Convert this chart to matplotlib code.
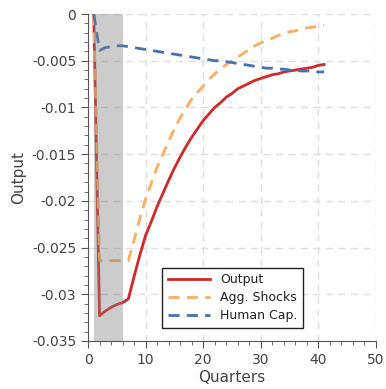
import matplotlib
matplotlib.use("Agg")
import matplotlib.pyplot as plt
from matplotlib.ticker import MultipleLocator

quarters = list(range(1, 42))

output = [0.0, -0.0323, -0.0318, -0.0314, -0.0311, -0.0309, -0.0305, -0.0281,
          -0.0258, -0.0237, -0.0222, -0.0206, -0.0192, -0.0178, -0.0165, -0.0153,
          -0.0142, -0.0132, -0.0123, -0.0114, -0.0107, -0.0100, -0.0095, -0.0089,
          -0.0085, -0.0080, -0.0077, -0.0074, -0.0071, -0.0069, -0.0067, -0.0065,
          -0.0064, -0.0062, -0.0061, -0.0060, -0.0059, -0.0058, -0.0057, -0.0055,
          -0.0054]

agg_shocks = [0.0, -0.0264, -0.0264, -0.0264, -0.0264, -0.0264, -0.0264, -0.0242,
              -0.0219, -0.0198, -0.0181, -0.0164, -0.0150, -0.0136, -0.0123, -0.0111,
              -0.0101, -0.0091, -0.0084, -0.0077, -0.0070, -0.0064, -0.0059, -0.0054,
              -0.0050, -0.0046, -0.0042, -0.0038, -0.0034, -0.0031, -0.0028, -0.0026,
              -0.0023, -0.0021, -0.0019, -0.0018, -0.0016, -0.0015, -0.0014, -0.0013,
              -0.0012]

human_cap = [0.0, -0.0039, -0.0036, -0.0035, -0.0034, -0.0034, -0.0035, -0.0036,
             -0.0037, -0.0038, -0.0039, -0.0040, -0.0041, -0.0042, -0.0043, -0.0044,
             -0.0045, -0.0046, -0.0047, -0.0048, -0.0049, -0.0050, -0.0050, -0.0051,
             -0.0052, -0.0053, -0.0054, -0.0055, -0.0056, -0.0057, -0.0058, -0.0058,
             -0.0059, -0.0059, -0.0060, -0.0060, -0.0061, -0.0061, -0.0061, -0.0062,
             -0.0062]

recession = (1, 6)

txt = '#444444'
plt.rcParams['font.family'] = 'DejaVu Sans'

fig = plt.figure(figsize=(3.86, 3.89), dpi=100)
ax = fig.add_axes([0.228, 0.1234, 0.746, 0.8406])

ax.plot(quarters, output, color='#d62728', lw=2, label='Output', zorder=3)
ax.plot(quarters, agg_shocks, color='#fdae61', lw=2, ls=(0, (4, 2.6)),
        label='Agg. Shocks', zorder=3)
ax.plot(quarters, human_cap, color='#4472b4', lw=2, ls=(0, (4, 2.6)),
        label='Human Cap.', zorder=3)
ax.axvspan(*recession, color='#808080', alpha=0.4, lw=0, zorder=4)

ax.set_xlim(0, 50)
ax.set_ylim(-0.035, 0)
ax.xaxis.set_major_locator(MultipleLocator(10))
ax.xaxis.set_minor_locator(MultipleLocator(2))
ax.yaxis.set_minor_locator(MultipleLocator(0.001))
ax.set_yticks([0, -0.005, -0.01, -0.015, -0.02, -0.025, -0.03, -0.035])
ax.set_yticklabels(['0', '-0.005', '-0.01', '-0.015', '-0.02', '-0.025', '-0.03', '-0.035'])

ax.grid(True, which='major', ls=(0, (5, 4)), color='#dddddd', lw=1)
for s in ['top', 'right']:
    ax.spines[s].set_visible(False)
for s in ['left', 'bottom']:
    ax.spines[s].set_color('#555555')
ax.tick_params(which='both', direction='out', colors='#555555', labelcolor=txt,
               labelsize=10)
ax.tick_params(which='major', length=5)
ax.tick_params(which='minor', length=3)

ax.set_xlabel('Quarters', fontsize=11, color=txt, labelpad=2)
ax.set_ylabel('Output', fontsize=11, color=txt)

leg = ax.legend(loc='lower left', bbox_to_anchor=(0.257, 0.04), fontsize=9,
                fancybox=False, framealpha=1, edgecolor='#222222',
                borderaxespad=0, handlelength=3.4, borderpad=0.45,
                labelspacing=0.4)
leg.get_frame().set_linewidth(1)
for t in leg.get_texts():
    t.set_color('#222222')

fig.savefig('out.png', dpi=100)
